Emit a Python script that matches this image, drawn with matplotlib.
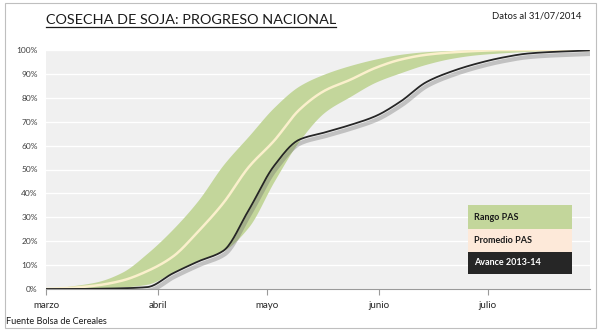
import matplotlib
matplotlib.use("Agg")
import matplotlib.pyplot as plt
import matplotlib.patheffects as pe
from matplotlib.patches import Rectangle
from matplotlib.lines import Line2D
import numpy as np

plt.rcParams['font.family'] = ['Lato', 'DejaVu Sans']

# days since 1 March
days = [0, 7, 14, 21, 28, 35, 42, 49, 56, 63, 70, 77, 84, 91, 98, 105, 112,
        119, 126, 133, 140, 147, 150]
rango_max = [0, 1.3, 3, 7, 15, 25, 37, 52, 64, 76, 85, 90, 93.5, 96.2, 98.2,
             99.3, 99.8, 100, 100, 100, 100, 100, 100]
rango_min = [0, 0, 0.3, 0.8, 2, 7, 12, 16, 26, 45, 62, 74, 80.5, 86.5, 90.5,
             94, 96.5, 98, 98.8, 99.4, 99.8, 100, 100]
promedio = [0, 0.5, 1.5, 3.5, 7.5, 13.5, 24, 36, 51, 62, 75, 83, 87.5, 92.5,
            96, 98, 99, 99.6, 100, 100, 100, 100, 100]
avance = [0, 0, 0.1, 0.3, 0.8, 6.5, 11.5, 16, 33, 51.5, 62.5, 65.5, 68.6,
          72.3, 78.5, 86.5, 91, 94.3, 96.8, 98.5, 99.2, 99.6, 99.8]

month_pos = [0, 31, 61, 92, 122]
month_labels = ['marzo', 'abril', 'mayo', 'junio', 'julio']
y_ticks = [0, 10, 20, 30, 40, 50, 60, 70, 80, 90, 100]
y_labels = [f"{v}%" for v in y_ticks]
legend_labels = ['Rango PAS', 'Promedio PAS', 'Avance 2013-14']

W, H = 600, 330
fig = plt.figure(figsize=(W / 100, H / 100), dpi=100)
fig.patch.set_facecolor('white')

def fx(px):
    return px / W

def fy(py):
    return 1 - py / H

ax = fig.add_axes([fx(46), fy(289), fx(590) - fx(46), fy(50) - fy(289)])
ax.set_facecolor('#f0f0f0')

# smooth monotone curves through the points
def smooth(x, y, n=400):
    x = np.asarray(x, float)
    y = np.asarray(y, float)
    xs = np.linspace(x[0], x[-1], n)
    h = np.diff(x)
    d = np.diff(y) / h
    m = np.zeros_like(y)
    for i in range(1, len(y) - 1):
        if d[i - 1] * d[i] > 0:
            w1 = 2 * h[i] + h[i - 1]
            w2 = h[i] + 2 * h[i - 1]
            m[i] = (w1 + w2) / (w1 / d[i - 1] + w2 / d[i])
    m[0] = d[0]
    m[-1] = d[-1]
    idx = np.clip(np.searchsorted(x, xs) - 1, 0, len(x) - 2)
    t = (xs - x[idx]) / h[idx]
    h00 = 2 * t**3 - 3 * t**2 + 1
    h10 = t**3 - 2 * t**2 + t
    h01 = -2 * t**3 + 3 * t**2
    h11 = t**3 - t**2
    ys = (h00 * y[idx] + h10 * h[idx] * m[idx] + h01 * y[idx + 1]
          + h11 * h[idx] * m[idx + 1])
    return xs, ys

xs, ymax = smooth(days, rango_max)
_, ymin = smooth(days, rango_min)
_, yprom = smooth(days, promedio)
_, yav = smooth(days, avance)

ax.fill_between(xs, ymin, ymax, color='#c3d69b', lw=0, zorder=2)
ax.plot(xs, yprom, color='#fbf0cc', lw=1.8, zorder=3)
ax.plot(xs, yav, color='#262626', lw=1.3, zorder=4,
        path_effects=[pe.SimpleLineShadow(offset=(1.0, -2.5), shadow_color='#6a6a6a',
                                          alpha=0.35, linewidth=3.0),
                      pe.Normal()])

ax.set_xlim(0, 150.3)
ax.set_ylim(0, 100)
ax.set_yticks(y_ticks)
ax.set_yticklabels(y_labels)
ax.set_xticks(month_pos)
ax.set_xticklabels(month_labels)
ax.grid(axis='y', color='white', lw=1.0, zorder=1)
ax.set_axisbelow(True)
for s in ['top', 'right', 'left']:
    ax.spines[s].set_visible(False)
ax.spines['bottom'].set_color('#9a9a9a')
ax.spines['bottom'].set_linewidth(0.8)
ax.tick_params(axis='y', length=0, labelsize=6, labelcolor='#404040', pad=6)
ax.tick_params(axis='x', length=4, color='#9a9a9a', labelsize=7,
               labelcolor='#262626', pad=5)

# outer border
fig.patches.append(Rectangle((fx(5), fy(328)), fx(596) - fx(5), fy(3) - fy(328),
                             transform=fig.transFigure, fill=False,
                             edgecolor='#bfbfbf', lw=0.8))

# title with underline
title = fig.text(fx(46), fy(20), 'COSECHA DE SOJA: PROGRESO NACIONAL',
                 fontsize=10.4, color='#1a1a1a', ha='left', va='center')
fig.text(fx(581), fy(16), 'Datos al 31/07/2014', fontsize=6.8,
         color='#1a1a1a', ha='right', va='center')
fig.text(fx(6), fy(321), 'Fuente Bolsa de Cereales', fontsize=6.6,
         color='#1a1a1a', ha='left', va='center')

fig.canvas.draw()
bb = title.get_window_extent(fig.canvas.get_renderer())
bbf = bb.transformed(fig.transFigure.inverted())
fig.lines.append(Line2D([bbf.x0, bbf.x1], [bbf.y0 - 0.004, bbf.y0 - 0.004],
                        transform=fig.transFigure, color='#1a1a1a', lw=0.9))

# legend boxes
boxes = [(205, 229.3, '#c3d69b', '#1a1a1a'),
         (229.3, 251.7, '#fde9d9', '#1a1a1a'),
         (251.7, 274, '#262626', 'white')]
for (t, b, fc, tc), lab in zip(boxes, legend_labels):
    fig.patches.append(Rectangle((fx(468), fy(b)), fx(572) - fx(468), fy(t) - fy(b),
                                 transform=fig.transFigure, facecolor=fc,
                                 edgecolor='none'))
    fig.text(fx(474), fy((t + b) / 2), lab, fontsize=6.5, fontweight='bold',
             color=tc, ha='left', va='center')

fig.savefig('out.png', dpi=100)
